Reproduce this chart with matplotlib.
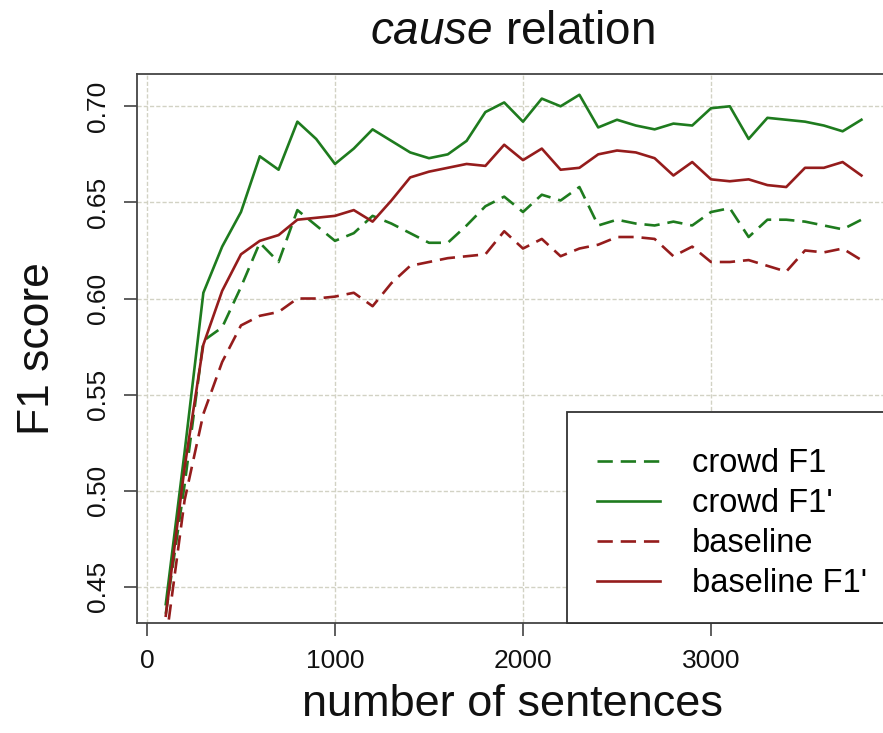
import matplotlib
matplotlib.use("Agg")
import matplotlib.pyplot as plt
import matplotlib.patches as patches
from matplotlib.lines import Line2D

# data (sentences vs. F1)
n_sentences = [100, 200, 300, 400, 500, 600, 700, 800, 900, 1000,
               1100, 1200, 1300, 1400, 1500, 1600, 1700, 1800, 1900, 2000,
               2100, 2200, 2300, 2400, 2500, 2600, 2700, 2800, 2900, 3000,
               3100, 3200, 3300, 3400, 3500, 3600, 3700, 3800]

crowd_f1 = [0.436, 0.503, 0.578, 0.585, 0.606, 0.629, 0.619, 0.646, 0.638, 0.630,
            0.634, 0.643, 0.639, 0.634, 0.629, 0.629, 0.638, 0.648, 0.653, 0.645,
            0.654, 0.651, 0.658, 0.638, 0.641, 0.639, 0.638, 0.640, 0.638, 0.645,
            0.647, 0.632, 0.641, 0.641, 0.640, 0.638, 0.636, 0.641]

crowd_f1_prime = [0.441, 0.520, 0.603, 0.627, 0.645, 0.674, 0.667, 0.692, 0.683, 0.670,
                  0.678, 0.688, 0.682, 0.676, 0.673, 0.675, 0.682, 0.697, 0.702, 0.692,
                  0.704, 0.700, 0.706, 0.689, 0.693, 0.690, 0.688, 0.691, 0.690, 0.699,
                  0.700, 0.683, 0.694, 0.693, 0.692, 0.690, 0.687, 0.693]

baseline = [0.421, 0.495, 0.540, 0.567, 0.586, 0.591, 0.593, 0.600, 0.600, 0.601,
            0.603, 0.596, 0.608, 0.617, 0.619, 0.621, 0.622, 0.623, 0.635, 0.626,
            0.631, 0.622, 0.626, 0.628, 0.632, 0.632, 0.631, 0.622, 0.627, 0.619,
            0.619, 0.620, 0.617, 0.614, 0.625, 0.624, 0.626, 0.620]

baseline_f1_prime = [0.435, 0.512, 0.576, 0.604, 0.623, 0.630, 0.633, 0.641, 0.642, 0.643,
                     0.646, 0.640, 0.651, 0.663, 0.666, 0.668, 0.670, 0.669, 0.680, 0.672,
                     0.678, 0.667, 0.668, 0.675, 0.677, 0.676, 0.673, 0.664, 0.671, 0.662,
                     0.661, 0.662, 0.659, 0.658, 0.668, 0.668, 0.671, 0.664]

x_ticks = [0, 1000, 2000, 3000]
y_ticks = [0.45, 0.50, 0.55, 0.60, 0.65, 0.70]
legend_labels = ["crowd F1", "crowd F1'", "baseline", "baseline F1'"]

GREEN = "#1e7b1e"
RED = "#951c1c"
LW = 1.9
DASH = (0, (5.8, 3.0))

plt.rcParams["font.family"] = ["Liberation Sans", "DejaVu Sans"]
plt.rcParams["mathtext.fontset"] = "custom"
plt.rcParams["mathtext.rm"] = "Liberation Sans"
plt.rcParams["mathtext.it"] = "Liberation Sans:italic"

W, H = 883, 733
fig = plt.figure(figsize=(W / 100, H / 100), dpi=100)

# plot box runs past the right edge of the picture (cropped R plot)
left, right, top, bottom = 137, 887, 74, 623
ax = fig.add_axes([left / W, (H - bottom) / H, (right - left) / W, (bottom - top) / H])

ax.plot(n_sentences, crowd_f1, color=GREEN, lw=LW, linestyle=DASH)
ax.plot(n_sentences, crowd_f1_prime, color=GREEN, lw=LW)
ax.plot(n_sentences, baseline, color=RED, lw=LW, linestyle=DASH)
ax.plot(n_sentences, baseline_f1_prime, color=RED, lw=LW)

ax.set_xlim(-53, 3936)
ax.set_ylim(0.4312, 0.7168)

ax.set_xticks(x_ticks)
ax.set_yticks(y_ticks)
ax.set_yticklabels([f"{v:.2f}" for v in y_ticks], rotation=90, va="center")
ax.tick_params(axis="both", direction="out", length=9.5, width=1.1,
               color="#333333", labelsize=19, labelcolor="#111111")
ax.tick_params(axis="x", pad=9)
ax.tick_params(axis="y", pad=10)

ax.grid(True, color="#d2d2c4", linestyle=(0, (3, 1.5)), linewidth=1.0)
ax.set_axisbelow(True)

for side in ["left", "top", "bottom"]:
    ax.spines[side].set_color("#444444")
    ax.spines[side].set_linewidth(1.3)
ax.spines["right"].set_visible(False)

ax.set_xlabel("number of sentences", fontsize=32.5, color="#111111", labelpad=8)
ax.set_ylabel("F1 score", fontsize=32, color="#111111")
ax.yaxis.set_label_coords((38 - left) / (right - left), 0.5)
ax.yaxis.label.set_va("center")

fig.text((left + right) / 2 / W, 1 - 32 / H, r"$\mathit{cause}$ relation",
         fontsize=33, ha="center", va="center", color="#111111")

# legend frame, drawn separately so its padding matches the R box
frame = patches.Rectangle((567 / W, (H - 623) / H), (900 - 567) / W, (623 - 412) / H,
                          transform=fig.transFigure, facecolor="white",
                          edgecolor="#333333", linewidth=1.3, zorder=5)
fig.patches.append(frame)

handles = [Line2D([], [], color=GREEN, lw=LW, linestyle=DASH),
           Line2D([], [], color=GREEN, lw=LW),
           Line2D([], [], color=RED, lw=LW, linestyle=DASH),
           Line2D([], [], color=RED, lw=LW)]
leg = fig.legend(handles, legend_labels, loc="upper left", frameon=False,
                 bbox_to_anchor=(597 / W, 1 - 448 / H), bbox_transform=fig.transFigure,
                 fontsize=23.5, borderpad=0, borderaxespad=0, handlelength=1.93,
                 handletextpad=0.98, labelspacing=0.28)
leg.set_zorder(6)

fig.savefig("out.png", dpi=100)
